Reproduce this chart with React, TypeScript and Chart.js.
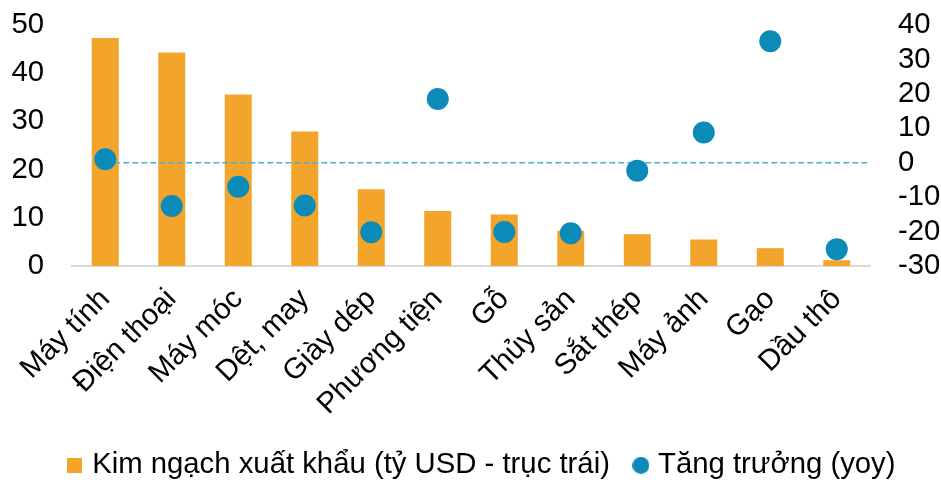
import React, { useEffect, useRef } from 'react';
import { Chart, registerables } from 'chart.js';

Chart.register(...registerables);

const categories = ['Máy tính', 'Điện thoại', 'Máy móc', 'Dệt, may', 'Giày dép', 'Phương tiện', 'Gỗ', 'Thủy sản', 'Sắt thép', 'Máy ảnh', 'Gạo', 'Dầu thô'];
const exportValues = [47.3, 44.3, 35.6, 27.9, 15.9, 11.4, 10.7, 7.3, 6.6, 5.5, 3.7, 1.2];
const growthValues = [1.0, -12.6, -7.0, -12.4, -20.2, 18.5, -20.1, -20.5, -2.3, 8.8, 35.3, -25.1];
const leftTicks = [0, 10, 20, 30, 40, 50];
const rightTicks = [-30, -20, -10, 0, 10, 20, 30, 40];
const barLabel = 'Kim ngạch xuất khẩu (tỷ USD - trục trái)';
const pointLabel = 'Tăng trưởng (yoy)';
const referenceLineValue = 0;

const BAR_COLOR = '#F2A42B';
const POINT_COLOR = '#0C8BB8';
const LINE_COLOR = '#4AAED6';
const FONT = "'Liberation Sans', Arial, sans-serif";
const FS = 29.3;

function makeMarker(kind: 'rect' | 'circle', size: number, color: string) {
  const c = document.createElement('canvas');
  c.width = size;
  c.height = size;
  const ctx = c.getContext('2d')!;
  ctx.fillStyle = color;
  if (kind === 'rect') {
    ctx.fillRect(0, 0, size, size);
  } else {
    ctx.beginPath();
    ctx.arc(size / 2, size / 2, size / 2, 0, Math.PI * 2);
    ctx.fill();
  }
  return c;
}

export default function App() {
  const ref = useRef<HTMLCanvasElement | null>(null);

  useEffect(() => {
    if (!ref.current) return;
    const squareMarker = makeMarker('rect', 15, BAR_COLOR);
    const circleMarker = makeMarker('circle', 17, POINT_COLOR);

    const refLine = {
      id: 'refLine',
      afterDatasetDraw(chart: any, args: any) {
        if (args.index !== 0) return;
        const { ctx, chartArea } = chart;
        const y = chart.scales.y1.getPixelForValue(referenceLineValue);
        const x0 = chart.scales.x.getPixelForValue(0);
        ctx.save();
        ctx.strokeStyle = LINE_COLOR;
        ctx.lineWidth = 1.6;
        ctx.setLineDash([6, 3]);
        ctx.beginPath();
        ctx.moveTo(x0, y);
        ctx.lineTo(chartArea.right, y);
        ctx.stroke();
        ctx.restore();
      },
    };

    const tickFont = { size: FS, family: FONT };

    const chart = new Chart(ref.current, {
      type: 'bar',
      data: {
        labels: categories,
        datasets: [
          {
            type: 'bar',
            label: barLabel,
            data: exportValues,
            backgroundColor: BAR_COLOR,
            yAxisID: 'y',
            order: 2,
            categoryPercentage: 1,
            barPercentage: 0.406,
          },
          {
            type: 'line',
            label: pointLabel,
            data: growthValues,
            showLine: false,
            pointRadius: 11,
            pointHoverRadius: 11,
            pointBackgroundColor: POINT_COLOR,
            pointBorderWidth: 0,
            backgroundColor: POINT_COLOR,
            borderColor: POINT_COLOR,
            yAxisID: 'y1',
            order: 1,
          } as any,
        ],
      },
      options: {
        responsive: false,
        animation: false,
        layout: { padding: { top: 25, left: 0, right: 0, bottom: 0 } },
        plugins: {
          tooltip: { enabled: false },
          legend: {
            position: 'bottom',
            labels: {
              font: { size: FS, family: FONT },
              color: '#000',
              usePointStyle: true,
              pointStyleWidth: 5,
              padding: 28.5,
              sort: (a: any, b: any) => a.datasetIndex - b.datasetIndex,
              generateLabels: (c: any) => {
                const items = Chart.defaults.plugins.legend.labels.generateLabels(c);
                return items.map((it: any) => ({
                  ...it,
                  pointStyle: it.datasetIndex === 0 ? squareMarker : circleMarker,
                  lineWidth: 0,
                }));
              },
            },
          },
        },
        scales: {
          x: {
            grid: { display: false, drawTicks: false },
            border: { display: true, color: '#D9D9D9', width: 2 },
            ticks: {
              font: tickFont,
              color: '#000',
              maxRotation: 45,
              minRotation: 45,
              autoSkip: false,
              padding: 16,
            },
            afterFit: (s: any) => { s.height = 156.2; },
          },
          y: {
            position: 'left',
            min: leftTicks[0],
            max: leftTicks[leftTicks.length - 1],
            grid: { display: false, drawTicks: true, tickLength: 28 },
            border: { display: false },
            ticks: { font: tickFont, color: '#000', padding: 0, autoSkip: false },
            afterBuildTicks: (s: any) => { s.ticks = leftTicks.map((v) => ({ value: v })); },
            afterFit: (s: any) => { s.width = 72; },
          },
          y1: {
            position: 'right',
            min: rightTicks[0],
            max: rightTicks[rightTicks.length - 1],
            grid: { display: false, drawTicks: true, tickLength: 28 },
            border: { display: false },
            ticks: { font: tickFont, color: '#000', padding: 0, autoSkip: false },
            afterBuildTicks: (s: any) => { s.ticks = rightTicks.map((v) => ({ value: v })); },
            afterFit: (s: any) => { s.width = 98; },
          },
        },
      } as any,
      plugins: [refLine],
    });
    return () => chart.destroy();
  }, []);

  return (
    <div style={{ position: 'absolute', left: 0, top: 0, width: 941, height: 480, overflow: 'hidden', background: '#fff' }}>
      <canvas ref={ref} width={968} height={490} style={{ display: 'block' }} />
    </div>
  );
}
